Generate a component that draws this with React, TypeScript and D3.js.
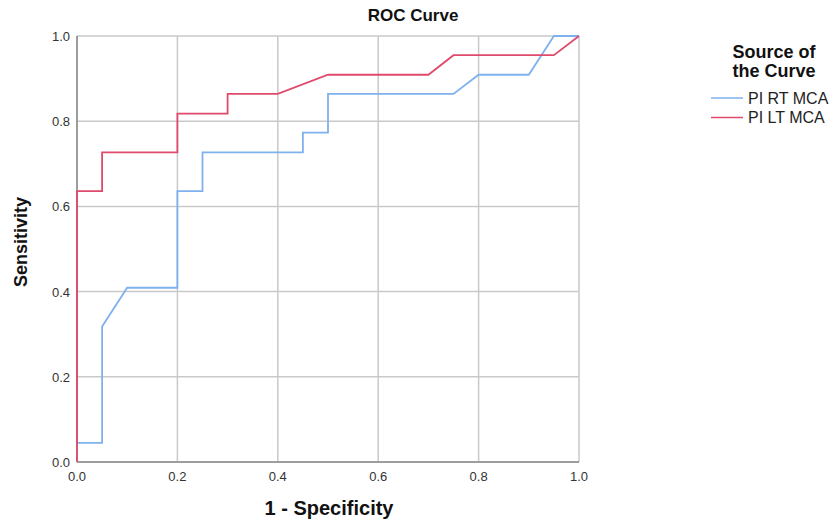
import React from 'react';
import * as d3 from 'd3';

// ROC points (1 - specificity, sensitivity)
const rtFpr = [0, 0, 0.05, 0.05, 0.1, 0.2, 0.2, 0.25, 0.25, 0.45, 0.45, 0.5, 0.5, 0.75, 0.8, 0.9, 0.95, 1];
const rtTpr = [0, 0.045, 0.045, 0.318, 0.409, 0.409, 0.636, 0.636, 0.727, 0.727, 0.773, 0.773, 0.864, 0.864, 0.909, 0.909, 1, 1];

const ltFpr = [0, 0, 0.05, 0.05, 0.2, 0.2, 0.3, 0.3, 0.4, 0.5, 0.7, 0.75, 0.95, 1];
const ltTpr = [0, 0.636, 0.636, 0.727, 0.727, 0.818, 0.818, 0.864, 0.864, 0.909, 0.909, 0.955, 0.955, 1];

const ticks = [0, 0.2, 0.4, 0.6, 0.8, 1.0];
const seriesNames = ['PI RT MCA', 'PI LT MCA'];
const seriesColors = ['#7fb1ee', '#e04a6c'];

const W = 837;
const H = 520;
const left = 77;
const right = 579;
const top = 36;
const bottom = 462;

export default function App() {
  const x = d3.scaleLinear().domain([0, 1]).range([left, right]);
  const y = d3.scaleLinear().domain([0, 1]).range([bottom, top]);
  const line = d3.line<number[]>().x((d) => x(d[0])).y((d) => y(d[1]));

  const series = [
    rtFpr.map((v, i) => [v, rtTpr[i]]),
    ltFpr.map((v, i) => [v, ltTpr[i]]),
  ];

  const font = 'Liberation Sans, Arial, sans-serif';

  return (
    <svg width={W} height={H} style={{ position: 'absolute', left: 0, top: 0, background: '#fff' }} fontFamily={font}>
      <rect x={0} y={0} width={W} height={H} fill="#fff" />
      <text x={413} y={21} textAnchor="middle" fontSize={17} fontWeight="bold" fill="#111">ROC Curve</text>

      {ticks.map((t) => (
        <g key={'g' + t}>
          <line x1={x(t)} x2={x(t)} y1={top} y2={bottom} stroke="#c9c9c9" strokeWidth={1.5} />
          <line x1={left} x2={right} y1={y(t)} y2={y(t)} stroke="#c9c9c9" strokeWidth={1.5} />
        </g>
      ))}
      <line x1={left} x2={left} y1={top} y2={bottom} stroke="#8a8a8a" strokeWidth={1.5} />
      <line x1={left} x2={right} y1={bottom} y2={bottom} stroke="#8a8a8a" strokeWidth={1.5} />

      {ticks.map((t) => (
        <text key={'yt' + t} x={70} y={y(t) + 5} textAnchor="end" fontSize={13} fill="#333">{t.toFixed(1)}</text>
      ))}
      {ticks.map((t) => (
        <text key={'xt' + t} x={x(t)} y={481} textAnchor="middle" fontSize={13} fill="#333">{t.toFixed(1)}</text>
      ))}

      {series.map((s, i) => (
        <path key={i} d={line(s) || ''} fill="none" stroke={seriesColors[i]} strokeWidth={1.8} />
      ))}

      <text x={329} y={515} textAnchor="middle" fontSize={20} fontWeight="bold" fill="#111">1 - Specificity</text>
      <text transform="translate(27,242) rotate(-90)" textAnchor="middle" fontSize={18} fontWeight="bold" fill="#111">Sensitivity</text>

      <text x={774} y={58} textAnchor="middle" fontSize={18} fontWeight="bold" fill="#111">Source of</text>
      <text x={774} y={77} textAnchor="middle" fontSize={18} fontWeight="bold" fill="#111">the Curve</text>
      {seriesNames.map((n, i) => (
        <g key={n}>
          <line x1={711} x2={743} y1={98 + i * 19.5} y2={98 + i * 19.5} stroke={seriesColors[i]} strokeWidth={1.5} />
          <text x={748} y={103.5 + i * 19.5} fontSize={16} fill="#222">{n}</text>
        </g>
      ))}
    </svg>
  );
}
